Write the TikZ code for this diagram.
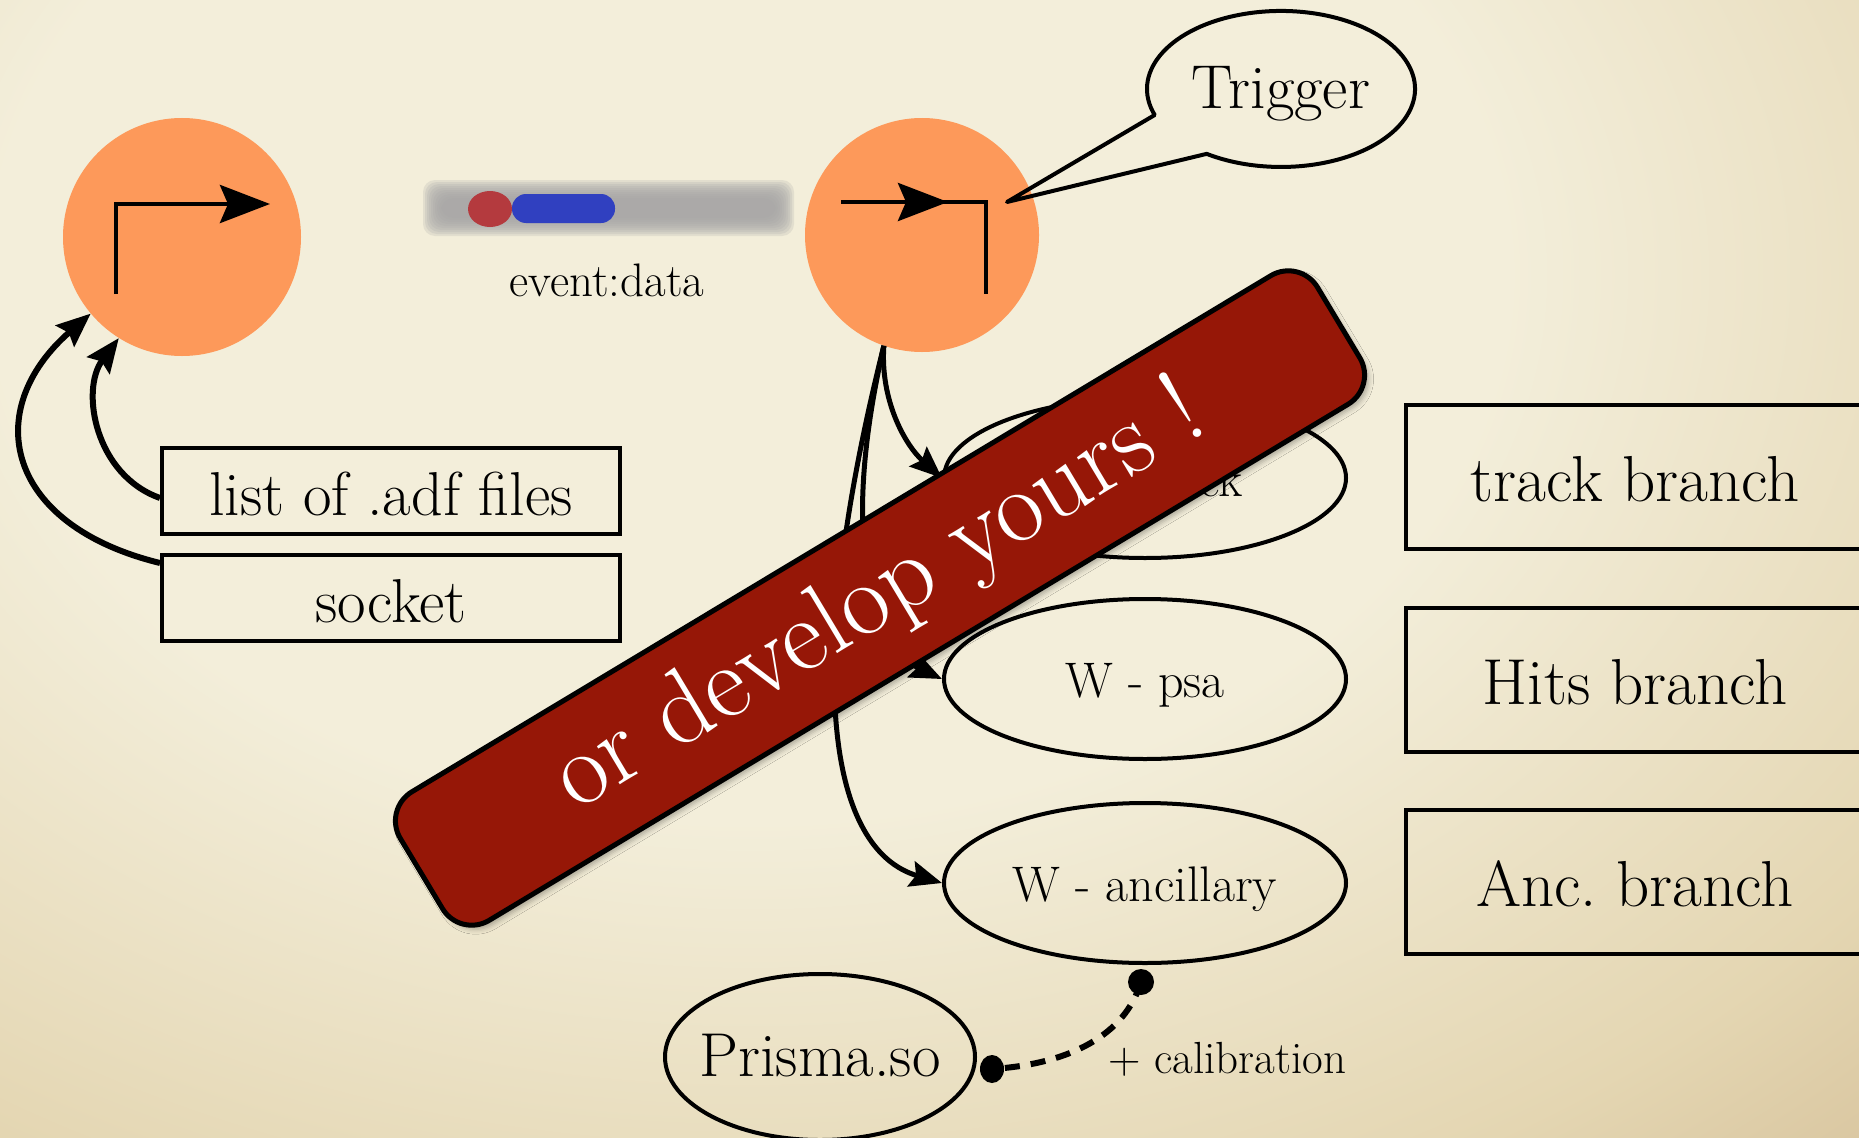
\documentclass[tikz,border=0pt]{standalone}
\usepackage{fontspec}
\usetikzlibrary{shapes.geometric,arrows.meta,shadows.blur,calc}
\definecolor{bgA}{HTML}{F3EEDA}
\definecolor{bgB}{HTML}{E4D6B2}
\definecolor{bgC}{HTML}{CDB48C}
\definecolor{orng}{HTML}{FD995A}
\definecolor{bannerred}{HTML}{961707}
\definecolor{pillblue}{HTML}{3040C0}
\definecolor{pillred}{HTML}{B43A3E}
\definecolor{bargray}{HTML}{A6A6A6}
\pgfdeclareradialshading{vign}{\pgfpoint{0bp}{0bp}}{color(0bp)=(bgA); color(14bp)=(bgA); color(26bp)=(bgB); color(36bp)=(bgC); color(50bp)=(bgC)}
\tikzset{
  fsz/.style={font=\fontsize{#1}{#1}\selectfont},
  boxnode/.style={draw, line width=4pt, rectangle, minimum width=458pt, inner sep=0pt, text height=48pt, text depth=0pt},
  wnode/.style={ellipse, draw, line width=4pt, minimum width=402pt, minimum height=160pt, inner ysep=0pt, inner xsep=-60pt, text height=36pt, text depth=0pt, fsz=50pt},
  conn/.style={line width=5pt, -{Stealth[length=32pt,width=26pt,inset=5pt]}},
  leftconn/.style={line width=6pt, -{Stealth[length=34pt,width=28pt,inset=5pt]}},
  glyph/.style={line width=4.5pt},
  glypharrow/.style={line width=4.5pt, -{Stealth[length=50pt,width=38pt,inset=8pt]}}
}
\begin{document}
\begin{tikzpicture}[x=1pt,y=-1pt]
\useasboundingbox (0,0) rectangle (1859,1137);
% background
\fill[bgA] (0,0) rectangle (1859,1137);
\begin{scope}
  \clip (0,0) rectangle (1859,1137);
  \shade[shading=vign] (-600,-700) rectangle (2100,1250);
\end{scope}

% event bar (blurred)
\foreach \k in {0,...,9} {
  \fill[bargray, opacity=0.22, rounded corners=12pt] (441-2*\k,198-2*\k) rectangle (776+2*\k,218+2*\k);
}
\fill[pillblue, rounded corners=14pt] (512,194) rectangle (615,223);
\fill[pillred] (490,209) ellipse [x radius=22, y radius=18];
\node[fsz=47pt, anchor=base, inner sep=0pt] (evlabel) at (607,296) {event:data};

% producer / consumer circles
\node[circle, fill=orng, minimum size=238pt, inner sep=0pt] (src) at (182,237) {};
\node[circle, fill=orng, minimum size=234pt, inner sep=0pt] (sink) at (922,235) {};

\draw[glypharrow] ([shift={(-66,57)}]src.center) -- ([shift={(-66,-33)}]src.center) -- ([shift={(88,-33)}]src.center);
\draw[glyph] ([shift={(-81,-33)}]sink.center) -- ([shift={(64,-33)}]sink.center) -- ([shift={(64,59)}]sink.center);
\draw[glypharrow] ([shift={(-81,-33)}]sink.center) -- ([shift={(26,-33)}]sink.center);

% Trigger callout
\node[ellipse, minimum width=268pt, minimum height=156pt, inner ysep=0pt, inner xsep=-60pt, text height=40pt, text depth=0pt, fsz=62pt] (trig) at (1281,89) {Trigger};
\coordinate (trigtip) at (1007,202);
\draw[line width=4pt, line join=round] ([shift={(-126.3,26)}]trig.center) arc[start angle=160.5, end angle=483.7, x radius=134, y radius=78] -- (trigtip) -- cycle;

% left boxes
\node[boxnode, minimum height=86pt, fsz=62pt] (list) at (391,491) {list of .adf files};
\node[boxnode, minimum height=86pt, fsz=62pt] (socket) at (391,598) {socket};

\draw[leftconn] ([yshift=-7pt]list.west) .. controls (95,475) and (80,390) .. (src.238);
\draw[leftconn] ([yshift=-10pt]socket.north west) .. controls (5,525) and (-20,410) .. (src.220);

% right boxes
\node[boxnode, minimum height=144pt, fsz=65pt] (trackbr) at (1635,477) {track branch};
\node[boxnode, minimum height=144pt, fsz=65pt] (hitsbr) at (1635,680) {Hits branch};
\node[boxnode, minimum height=144pt, fsz=65pt] (ancbr) at (1635,882) {Anc.\ branch};

% workers
\node[wnode] (wtrack) at (1145,478) {W - track};
\node[wnode] (wpsa) at (1145,679) {W - psa};
\node[wnode] (wanc) at (1145,883) {W - ancillary};

\draw[conn] (sink.251) .. controls (880,400) and (905,445) .. (wtrack.west);
\draw[conn] (sink.251) .. controls (835,560) and (880,650) .. (wpsa.west);
\draw[conn] (sink.251) .. controls (800,680) and (830,850) .. (wanc.west);

% Prisma library
\node[ellipse, draw, line width=4pt, minimum width=310pt, minimum height=166pt, inner ysep=0pt, inner xsep=-60pt, text height=38pt, text depth=0pt, fsz=62pt] (prisma) at (820,1057) {Prisma.so};
\coordinate (calA) at ([shift={(-4,17)}]wanc.south);
\coordinate (calB) at ([shift={(15,12)}]prisma.east);
\draw[line width=6pt, dash pattern=on 15pt off 11pt] (calA) .. controls (1125,1035) and (1070,1064) .. (calB);
\fill (calA) circle [radius=13];
\fill (calB) ellipse [x radius=12, y radius=14];
\node[fsz=45pt, anchor=base west, inner sep=0pt] (calib) at (1108,1073) {+ calibration};

% banner
\node[draw=black, line width=5pt, fill=bannerred, rounded corners=34pt, minimum width=1070pt, minimum height=150pt, rotate=31, text=white, fsz=104pt, inner sep=0pt, blur shadow={shadow xshift=4pt, shadow yshift=-4pt, shadow blur radius=5pt, shadow opacity=30}] (banner) at (880,598) {or develop yours !};
\end{tikzpicture}
\end{document}
